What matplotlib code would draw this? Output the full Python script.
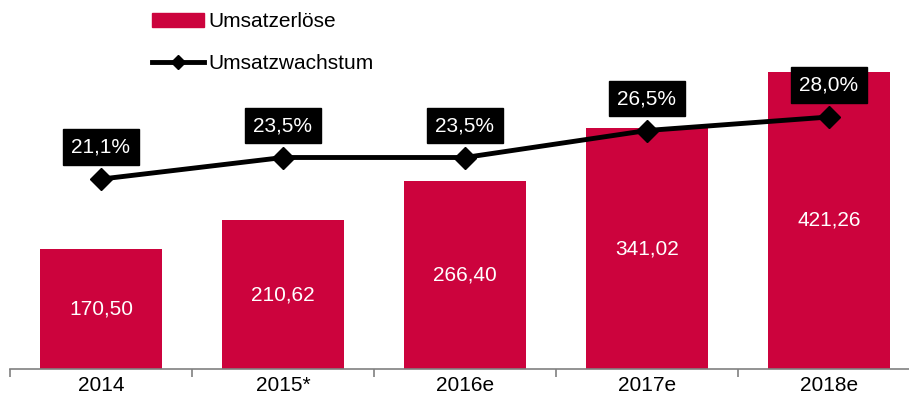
import matplotlib.pyplot as plt
from matplotlib.patches import Patch
from matplotlib.lines import Line2D

plt.rcParams['font.family'] = ['Liberation Sans', 'DejaVu Sans']

years = ["2014", "2015*", "2016e", "2017e", "2018e"]
umsatz = [170.50, 210.62, 266.40, 341.02, 421.26]
wachstum = [21.1, 23.5, 23.5, 26.5, 28.0]

red = "#CC033D"

fig = plt.figure(figsize=(9.09, 4.03), dpi=100)
ax = fig.add_axes([10 / 909, 34 / 403, 1 - 10 / 909, 369 / 403])
x = list(range(len(years)))
ax.bar(x, umsatz, width=0.67, color=red, zorder=2)

for i, v in enumerate(umsatz):
    ax.text(i, v / 2, f"{v:.2f}".replace(".", ","), ha="center", va="center",
            color="white", fontsize=15)

for s in ["top", "right", "left"]:
    ax.spines[s].set_visible(False)
ax.spines["bottom"].set_color("#808080")
ax.spines["bottom"].set_linewidth(1.2)
ax.set_yticks([])
ax.set_xticks([i - 0.5 for i in x] + [4.5], minor=False)
ax.set_xticklabels([])
ax.tick_params(axis="x", which="major", length=6, color="#808080", width=1.2)
ax.set_xticks(x, minor=True)
ax.set_xticklabels(years, minor=True, fontsize=15)
ax.tick_params(axis="x", which="minor", length=0, pad=5)
ax.set_xlim(-0.5, 4.5 - 11 / 182)
ax.set_ylim(0, 523)

ax2 = ax.twinx()
ax2.set_ylim(0, 41)
ax2.plot(x, wachstum, color="black", linewidth=3.5, marker="D", markersize=11, zorder=3)
ax2.axis("off")
for i, v in enumerate(wachstum):
    ax2.annotate(f"{v:.1f}%".replace(".", ","), (i, v), xytext=(0, 23),
                 textcoords="offset points", ha="center", va="center",
                 color="white", fontsize=15,
                 bbox=dict(boxstyle="square,pad=0.4", fc="black", ec="black"))

handles = [Patch(color=red),
           Line2D([0], [0], color="black", linewidth=3.5, marker="D", markersize=7)]
fig.legend(handles, ["Umsatzerlöse", "Umsatzwachstum"], loc="upper left",
           bbox_to_anchor=(133 / 909, 1.016), frameon=False, fontsize=15,
           handlelength=2.5, handleheight=0.6, handletextpad=0.2, labelspacing=1.1)

fig.savefig("out.png", dpi=100)
